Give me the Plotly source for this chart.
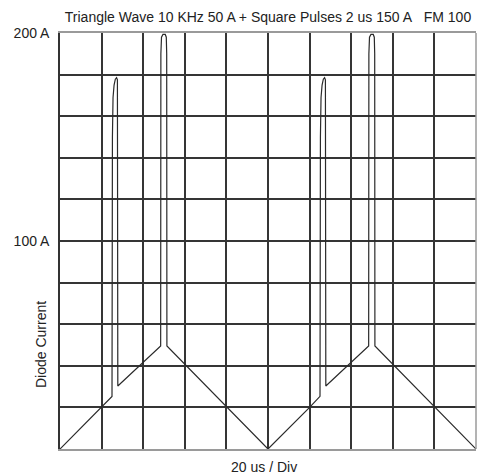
import plotly.graph_objects as go

# Diode current waveform (time in us, current in A)
time_us = [0, 20, 25.0, 25.2, 25.5, 26.0, 26.6, 27.2, 27.6, 27.8, 48.4, 48.5, 48.8, 49.5, 50.6, 51.1, 51.3, 51.4,
           100, 120, 125.0, 125.2, 125.5, 126.0, 126.6, 127.2, 127.6, 127.8, 148.4, 148.5, 148.8, 149.5, 150.6, 151.1, 151.3, 151.4,
           200]
current_a = [0, 20, 25.3, 150, 169, 175, 177.8, 178.5, 177.5, 30.3, 49.5, 190, 198, 199.3, 199.3, 198, 190, 49.5,
             0, 20, 25.3, 150, 169, 175, 177.8, 178.5, 177.5, 30.3, 49.5, 190, 198, 199.3, 199.3, 198, 190, 49.5,
             0]

x_grid = [0, 20, 40, 60, 80, 100, 120, 140, 160, 180, 200]
y_grid = [0, 20, 40, 60, 80, 100, 120, 140, 160, 180, 200]
y_labels = ["", "", "", "", "", "100 A", "", "", "", "", "200 A"]

title_text = "Triangle Wave 10 KHz 50 A + Square Pulses 2 us 150 A\u00a0\u00a0 FM 100"
x_title = "20 us / Div"
y_title = "Diode Current"

FONT = "Liberation Sans, Arial, Helvetica, sans-serif"
GRID = "#353535"
FS = 14

fig = go.Figure()
fig.add_trace(go.Scatter(x=time_us, y=current_a, mode="lines",
                         line=dict(color="#2a2a2a", width=1.2), hoverinfo="skip",
                         showlegend=False))

fig.update_layout(
    width=485, height=475,
    margin=dict(l=60, r=9, t=33, b=26),
    paper_bgcolor="white", plot_bgcolor="white",
    font=dict(family=FONT, size=FS, color="#222"),
    title=dict(text=title_text, x=0.5, xref="paper", xanchor="center",
               y=1 - 17 / 475, yanchor="middle", font=dict(size=FS, color="#222")),
    xaxis=dict(range=[0, 200], tickvals=x_grid, showticklabels=False, ticks="",
               showgrid=True, gridcolor=GRID, gridwidth=1.5, zeroline=False,
               showline=True, linecolor="#9a9a9a", linewidth=1.5, mirror=True,
               fixedrange=True),
    yaxis=dict(range=[0, 200], tickvals=y_grid, ticktext=y_labels, ticks="",
               ticklabelstandoff=6, tickfont=dict(size=FS),
               showgrid=True, gridcolor=GRID, gridwidth=1.5, zeroline=False,
               showline=True, linecolor="#333", linewidth=1.5, mirror=False,
               fixedrange=True),
    shapes=[dict(type="line", xref="x domain", yref="y domain", x0=1, x1=1, y0=0, y1=1,
                 line=dict(color="#9a9a9a", width=1.5), layer="above")],
    annotations=[
        dict(text=x_title, xref="paper", yref="paper", x=0.49, y=-18 / 416,
             xanchor="center", yanchor="middle", showarrow=False,
             font=dict(size=FS, color="#222")),
        dict(text=y_title, xref="paper", yref="paper", x=-19 / 416, y=0.25,
             xanchor="center", yanchor="middle", textangle=-90, showarrow=False,
             font=dict(size=FS, color="#222")),
    ],
)

fig.write_html("out.html", config={"displayModeBar": False},
               post_script="document.body.style.margin='0px';document.body.style.overflow='hidden';")
